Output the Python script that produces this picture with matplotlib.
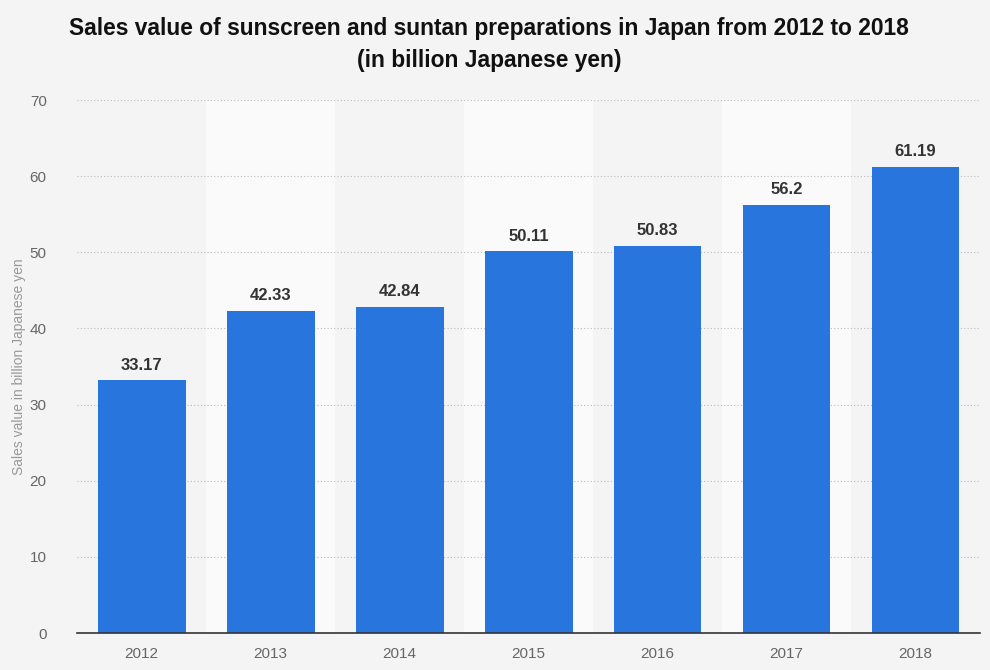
import matplotlib.pyplot as plt

# data
years = ['2012', '2013', '2014', '2015', '2016', '2017', '2018']
sales = [33.17, 42.33, 42.84, 50.11, 50.83, 56.2, 61.19]
labels = ['33.17', '42.33', '42.84', '50.11', '50.83', '56.2', '61.19']

plt.rcParams['font.family'] = ['Liberation Sans', 'DejaVu Sans']

fig = plt.figure(figsize=(9.9, 6.7), dpi=100, facecolor='#f4f4f4')
ax = fig.add_axes([0.078, 0.0552, 0.912, 0.7955])
ax.set_facecolor('#f4f4f4')

x = list(range(len(years)))

# alternating column bands
for i in x:
	if i % 2 == 1:
		ax.axvspan(i - 0.5, i + 0.5, color='#fafafa', zorder=0, lw=0)

ax.bar(x, sales, width=0.68, color='#2876dd', zorder=3)

for xi, v, lab in zip(x, sales, labels):
	ax.text(xi, v + 1.0, lab, ha='center', va='bottom', fontsize=12,
		fontweight='bold', color='#333333', zorder=4)

ax.set_xlim(-0.5, len(years) - 0.5)
ax.set_ylim(0, 70)
ax.set_yticks(range(0, 71, 10))
ax.set_xticks(x)
ax.set_xticklabels(years)
ax.tick_params(axis='both', length=0, labelsize=11, labelcolor='#666666')
ax.tick_params(axis='y', pad=22)
ax.tick_params(axis='x', pad=10)

ax.grid(axis='y', linestyle=(0, (1, 2)), color='#bbbbbb', lw=0.8, zorder=1)
for s in ['top', 'right', 'left']:
	ax.spines[s].set_visible(False)
ax.spines['bottom'].set_color('#333333')
ax.spines['bottom'].set_linewidth(1.2)
ax.spines['bottom'].set_zorder(5)

ax.set_ylabel('Sales value in billion Japanese yen', fontsize=10, color='#999999')
ax.yaxis.set_label_coords(-0.057, 0.5)

fig.text(0.494, 0.958, 'Sales value of sunscreen and suntan preparations in Japan from 2012 to 2018',
	ha='center', va='center', fontsize=16.4, fontweight='bold', color='#111111')
fig.text(0.494, 0.910, '(in billion Japanese yen)',
	ha='center', va='center', fontsize=16.4, fontweight='bold', color='#111111')

fig.savefig('out.png', dpi=100, facecolor=fig.get_facecolor())
